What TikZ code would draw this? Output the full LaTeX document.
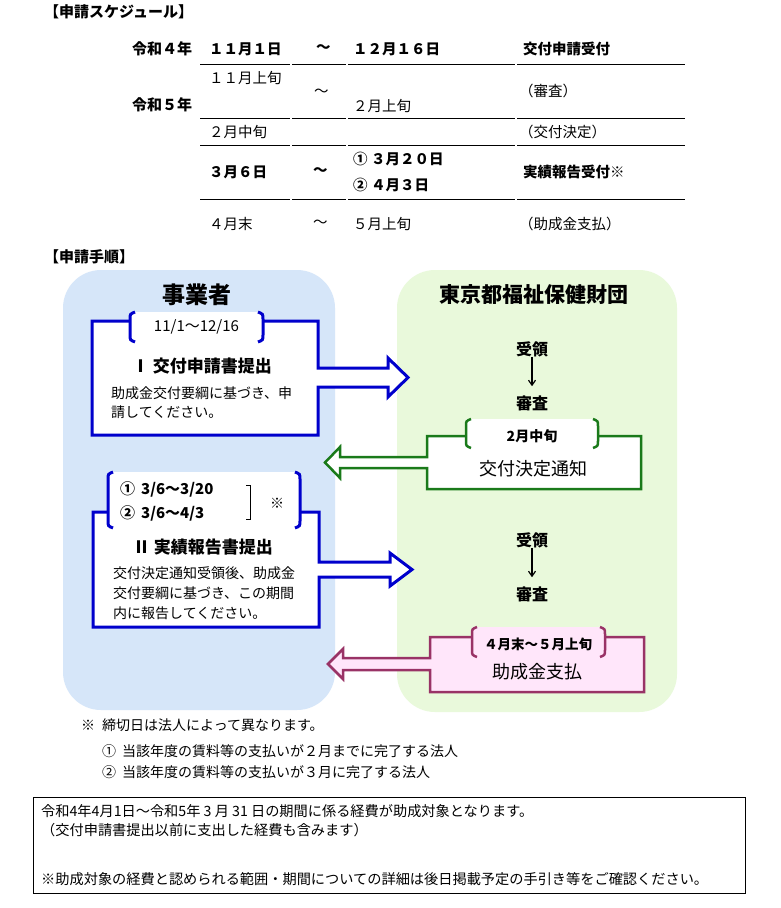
\documentclass[tikz,border=0pt]{standalone}
\usepackage{fontspec}
\setmainfont{Noto Sans CJK JP}
\usetikzlibrary{arrows.meta}
\definecolor{bluebg}{HTML}{D6E6F9}
\definecolor{greenbg}{HTML}{E9F9DB}
\definecolor{bline}{HTML}{0000CC}
\definecolor{gline}{HTML}{1A7A1A}
\definecolor{pline}{HTML}{993366}
\definecolor{pfill}{HTML}{FFE6FA}
\newcommand\fsz[1]{\fontsize{#1}{#1}\selectfont}
\newcommand\dbrk[5]{%
  \draw[#5] ({#1+5},#3) .. controls (#1,{#3+2}) .. (#1,{#3+7}) -- (#1,{#4-7}) .. controls (#1,{#4-2}) .. ({#1+5},#4);
  \draw[#5] ({#2-5},#3) .. controls (#2,{#3+2}) .. (#2,{#3+7}) -- (#2,{#4-7}) .. controls (#2,{#4-2}) .. ({#2-5},#4);}
\tikzset{
  tx/.style={inner sep=0pt, anchor=west, font=\fsz{14.5}},
  tb/.style={inner sep=0pt, anchor=west, font=\fsz{14.5}\bfseries},
  tl/.style={line width=0.8pt},
  ct/.style={inner sep=0pt},
  desc/.style={inner sep=0pt, anchor=west, font=\fsz{14}},
  note/.style={inner sep=0pt, anchor=west, font=\fsz{14}},
  bnote/.style={inner sep=0pt, anchor=west, font=\fsz{14.2}},
  bigt/.style={inner sep=0pt, font=\fsz{17}\bfseries},
  recv/.style={inner sep=0pt, font=\fsz{16}\bfseries},
  darr/.style={-{Straight Barb[length=5pt,width=7pt]}, line width=1.2pt, shorten >=9pt},
}
\begin{document}
\begin{tikzpicture}[x=1pt,y=-1pt]
\useasboundingbox[fill=white] (0,0) rectangle (780,908);

% ---------- schedule ----------
\node[tb, font=\fsz{15}\bfseries] (ttl) at (44,12) {【申請スケジュール】};

\foreach \yy in {64,118,145,199} {
  \draw[tl] (200,\yy) -- (290,\yy);
  \draw[tl] (292,\yy) -- (346,\yy);
  \draw[tl] (348,\yy) -- (515,\yy);
  \draw[tl] (517,\yy) -- (685,\yy);
}
\node[tb, font=\fsz{15}\bfseries] (y4) at (132,49) {令和４年};
\node[tb] (a1) at (209,49) {１１月１日};
\node[tb] (a2) at (316,49) {～};
\node[tb] (a3) at (353,49) {１２月１６日};
\node[tb] (a4) at (523,49) {交付申請受付};

\node[tx] (b1) at (209,78) {１１月上旬};
\node[tb, font=\fsz{15}\bfseries] (y5) at (132,105) {令和５年};
\node[tx] (b2) at (314,93) {～};
\node[tx] (b3) at (353,106) {２月上旬};
\node[tx] (b4) at (519,91) {（審査）};

\node[tx] (c1) at (209,132) {２月中旬};
\node[tx] (c4) at (519,132) {（交付決定）};

\node[tb] (d1) at (209,172) {３月６日};
\node[tb] (d2) at (313,172) {～};
\node[tb] (d3) at (353,159) {① ３月２０日};
\node[tb] (d3b) at (353,185) {② ４月３日};
\node[tb] (d4) at (523,172) {実績報告受付※};

\node[tx] (e1) at (209,224) {４月末};
\node[tx] (e2) at (313,224) {～};
\node[tx] (e3) at (353,224) {５月上旬};
\node[tx] (e4) at (519,224) {（助成金支払）};

% ---------- procedure ----------
\node[tb, font=\fsz{15}\bfseries] (ttl2) at (44,257) {【申請手順】};

\fill[bluebg, rounded corners=38pt] (63,270) rectangle (335,710);
\fill[greenbg, rounded corners=38pt] (397,270) rectangle (677,712);

\node[ct, font=\fsz{23}\bfseries] (jig) at (197,295) {事業者};
\node[ct, font=\fsz{21}\bfseries] (zai) at (534,295) {東京都福祉保健財団};

% Box I
\draw[bline, line width=3pt, fill=white] (92,321) -- (318,321) -- (318,368) -- (388,368) -- (388,358) -- (408,377.5) -- (388,397) -- (388,387) -- (318,387) -- (318,435) -- (92,435) -- cycle;
\fill[white] (130,312) rectangle (263,342);
\dbrk{130}{263}{312}{342}{bline, line width=3pt}
\node[ct, font=\fsz{15}] (dI) at (196.5,327) {11/1～12/16};
\node[bigt] (tI) at (202,366) {Ⅰ\hspace{4pt}交付申請書提出};
\node[desc] (dI1) at (111,393) {助成金交付要綱に基づき、申};
\node[desc] (dI2) at (111,412) {請してください。};

% Box II
\draw[bline, line width=3pt, fill=white] (93,512) -- (319,512) -- (319,562) -- (390,562) -- (390,553) -- (412,569.5) -- (390,586) -- (390,577) -- (319,577) -- (319,627) -- (93,627) -- cycle;
\fill[white] (108,472) rectangle (300,528);
\dbrk{108}{300}{472}{528}{bline, line width=3pt}
\node[ct, anchor=west, font=\fsz{15}\bfseries] (p1) at (120,489) {①\hspace{6pt}3/6～3/20};
\node[ct, anchor=west, font=\fsz{15}\bfseries] (p2) at (120,513) {②\hspace{6pt}3/6～4/3};
\draw[line width=0.8pt] (246,485) -- (250,485) -- (250,519) -- (246,519);
\node[ct, font=\fsz{14}\bfseries] (kome) at (277,503) {※};
\node[bigt] (tII) at (203,547) {Ⅱ\hspace{4pt}実績報告書提出};
\node[desc] (dII1) at (113,573) {交付決定通知受領後、助成金};
\node[desc] (dII2) at (113,593) {交付要綱に基づき、この期間};
\node[desc] (dII3) at (113,613) {内に報告してください。};

% Foundation side
\node[recv] (r1) at (532,349) {受領};
\node[recv] (s1) at (532,403) {審査};
\draw[darr] (r1) -- (s1);

\draw[gline, line width=2.5pt, fill=white] (427,436) -- (641,436) -- (641,489) -- (427,489) -- (427,468) -- (340,468) -- (340,478) -- (325,462.5) -- (340,447) -- (340,457) -- (427,457) -- cycle;
\fill[white] (466,419) rectangle (598,448);
\dbrk{466}{598}{419}{448}{gline, line width=2.5pt}
\node[ct, font=\fsz{14}\bfseries] (g1) at (532,436) {2月中旬};
\node[ct, font=\fsz{18}] (g2) at (533,469) {交付決定通知};

\node[recv] (r2) at (532,540) {受領};
\node[recv] (s2) at (532,594) {審査};
\draw[darr] (r2) -- (s2);

\draw[pline, line width=2.5pt, fill=pfill] (430,637) -- (644,637) -- (644,692) -- (430,692) -- (430,670) -- (343,670) -- (343,679) -- (328,664) -- (343,649) -- (343,658) -- (430,658) -- cycle;
\fill[pfill] (472,627) rectangle (605,657);
\dbrk{472}{605}{627}{657}{pline, line width=2.5pt}
\node[ct, font=\fsz{13.5}\bfseries] (pk1) at (538,644) {４月末～５月上旬};
\node[ct, font=\fsz{18}] (pk2) at (537,672) {助成金支払};

% ---------- notes ----------
\node[note] (n0) at (81,725) {※};
\node[note] (n1) at (102,725) {締切日は法人によって異なります。};
\node[note] (n2a) at (102,751) {①};
\node[note] (n2) at (122,751) {当該年度の賃料等の支払いが２月までに完了する法人};
\node[note] (n3a) at (102,772) {②};
\node[note] (n3) at (122,772) {当該年度の賃料等の支払いが３月に完了する法人};

\draw[line width=0.8pt] (33,797) rectangle (745,893);
\node[bnote] (m1) at (41,811) {令和4年4月1日～令和5年 3 月 31 日の期間に係る経費が助成対象となります。};
\node[bnote] (m2) at (41,830) {（交付申請書提出以前に支出した経費も含みます）};
\node[bnote] (m3) at (41,879) {※助成対象の経費と認められる範囲・期間についての詳細は後日掲載予定の手引き等をご確認ください。};
\end{tikzpicture}
\end{document}
